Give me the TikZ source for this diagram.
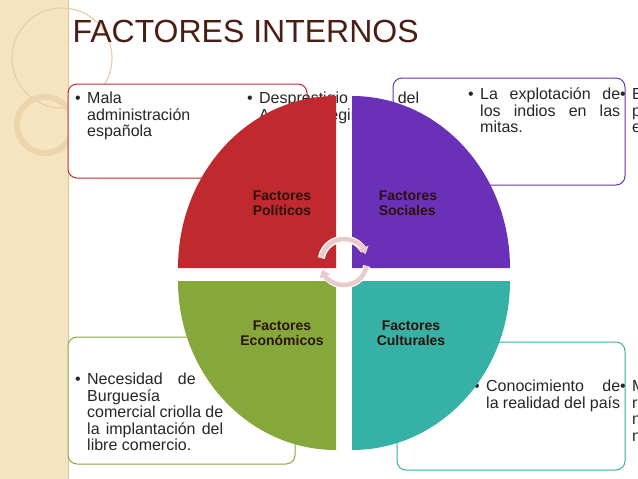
\documentclass[tikz,border=0pt]{standalone}
\usepackage{fontspec}
\setmainfont{Liberation Sans}
\usetikzlibrary{arrows.meta}
\definecolor{rojo}{HTML}{C02A2E}
\definecolor{morado}{HTML}{6A30B8}
\definecolor{verde}{HTML}{86A83A}
\definecolor{turquesa}{HTML}{35B1A5}
\definecolor{marron}{HTML}{4A1E12}
\definecolor{beige}{HTML}{F4E4C0}
\definecolor{rosa}{HTML}{EACACA}
\newcommand\vineta[2]{\par\noindent\makebox[12pt][l]{•}\parbox[t]{#1}{\hyphenpenalty=10000\exhyphenpenalty=10000 #2}}
\tikzset{
  detalle/.style={draw=#1, line width=1pt, rounded corners=9pt, fill=white},
  lista/.style={anchor=north west, align=left, inner sep=0pt,
    font=\fontsize{16}{16.5}\selectfont, text=black!85},
  rotulo/.style={font=\fontsize{14}{15}\selectfont\bfseries, text=marron!60!black, align=center},
  giro/.style={rosa, line width=4.5pt, -{Triangle[length=7pt,width=11pt]}}
}
\begin{document}
\begin{tikzpicture}[x=1pt,y=-1pt]
      \useasboundingbox (0,0) rectangle (638,479);
      \clip (0,0) rectangle (638,479);
      % fondo
      \fill[beige] (0,0) rectangle (68,479);
      \draw[beige!70!brown, line width=1pt] (68,0) -- (68,479);
      \draw[beige!80!brown, line width=1.2pt] (62,58) circle (50);
      \draw[beige!85!brown, line width=6pt] (45,125) circle (28);
      \node[anchor=west, font=\fontsize{32}{34}\selectfont, text=marron] (titulo) at (69,31) {FACTORES INTERNOS};
      % cuadros
      \draw[detalle=rojo] (68,84) rectangle (307,178);
      \draw[detalle=morado] (393,78) rectangle (625,185);
      \draw[detalle=verde] (68,337) rectangle (295,464);
      \draw[detalle=turquesa] (397,342) rectangle (625,470);
      \node[lista] (pol) at (75,92) {\vineta{160pt}{Mala\\administración\\española}\vineta{160pt}{Desprestigio del Antiguo Régimen}};
      \node[lista] (soc) at (468,88) {\vineta{140pt}{La explotación de los indios en las mitas.}\vineta{140pt}{El régimen de privilegio de los españoles}};
      \node[lista] (eco) at (75,373) {\vineta{136pt}{Necesidad de la Burguesía\\comercial criolla de la implantación del libre comercio.}};
      \node[lista] (cul) at (474,380) {\vineta{134pt}{Conocimiento de la realidad del país}\vineta{134pt}{Movimiento de revaloración nacional(idea de nación)}};
      % circulo
      \fill[rojo] (336,268) -- (178,268) arc[start angle=180, end angle=270, x radius=158, y radius=172] -- cycle;
      \fill[morado] (352,268) -- (352,96) arc[start angle=270, end angle=360, x radius=158, y radius=172] -- cycle;
      \fill[turquesa] (352,281) -- (510,281) arc[start angle=0, end angle=90, x radius=158, y radius=169] -- cycle;
      \fill[verde] (336,281) -- (336,450) arc[start angle=90, end angle=180, x radius=158, y radius=169] -- cycle;
      \node[rotulo] (npol) at (282,203) {Factores\\Políticos};
      \node[rotulo, align=left] (nsoc) at (408,203) {Factores\\Sociales};
      \node[rotulo] (neco) at (282,333) {Factores\\Económicos};
      \node[rotulo] (ncul) at (411,333) {Factores\\Culturales};
      % flechas
      \coordinate (centro) at (344,262);
      \draw[white, line width=7pt] ([shift={(190:23)}]centro) arc[start angle=190, end angle=330, radius=23];
      \draw[giro] ([shift={(190:23)}]centro) arc[start angle=190, end angle=340, radius=23];
      \draw[white, line width=7pt] ([shift={(10:23)}]centro) arc[start angle=10, end angle=150, radius=23];
      \draw[giro] ([shift={(10:23)}]centro) arc[start angle=10, end angle=160, radius=23];
\end{tikzpicture}
\end{document}
